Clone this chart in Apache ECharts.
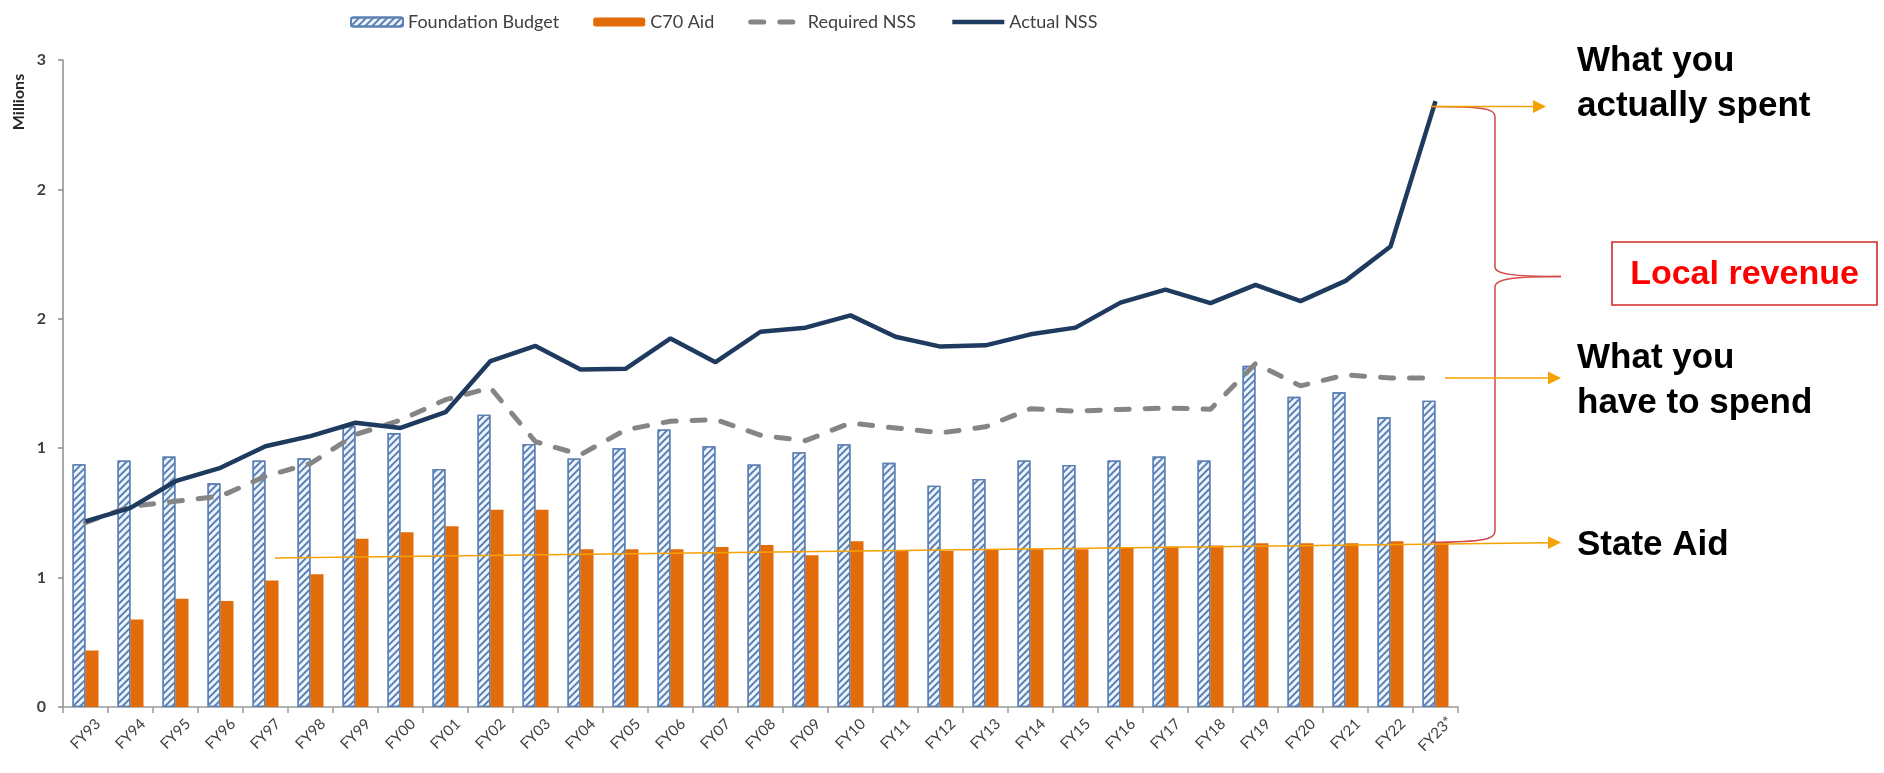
<!DOCTYPE html>
<html>
<head>
<meta charset="utf-8">
<title>Foundation budget, C70 aid and NSS</title>
<script src="https://cdn.jsdelivr.net/npm/echarts@6.0.0/dist/echarts.min.js"></script>
<style>
  html, body { margin: 0; padding: 0; background: #ffffff; }
  #chart { width: 1884px; height: 773px; }
</style>
</head>
<body>
<div id="chart"></div>
<script>
// fiscal years on the x axis
const categories = [
  'FY93', 'FY94', 'FY95', 'FY96', 'FY97', 'FY98', 'FY99', 'FY00', 'FY01', 'FY02',
  'FY03', 'FY04', 'FY05', 'FY06', 'FY07', 'FY08', 'FY09', 'FY10', 'FY11', 'FY12',
  'FY13', 'FY14', 'FY15', 'FY16', 'FY17', 'FY18', 'FY19', 'FY20', 'FY21', 'FY22', 'FY23*'
];

// values in millions
const foundationBudget = [
  1.126, 1.143, 1.161, 1.037, 1.143, 1.153, 1.302, 1.270, 1.104, 1.355,
  1.220, 1.152, 1.200, 1.287, 1.209, 1.124, 1.181, 1.218, 1.132, 1.026,
  1.057, 1.143, 1.122, 1.143, 1.161, 1.143, 1.582, 1.438, 1.459, 1.343, 1.420
];
const c70Aid = [
  0.262, 0.406, 0.502, 0.492, 0.587, 0.616, 0.780, 0.810, 0.838, 0.915,
  0.915, 0.732, 0.732, 0.732, 0.742, 0.751, 0.704, 0.769, 0.723, 0.723,
  0.731, 0.731, 0.731, 0.742, 0.744, 0.749, 0.759, 0.759, 0.759, 0.768, 0.764
];
const requiredNSS = [
  0.855, 0.930, 0.954, 0.977, 1.070, 1.129, 1.263, 1.330, 1.425, 1.480,
  1.230, 1.170, 1.285, 1.325, 1.333, 1.260, 1.235, 1.317, 1.294, 1.271,
  1.299, 1.383, 1.372, 1.380, 1.386, 1.381, 1.592, 1.489, 1.540, 1.526, 1.526
];
const actualNSS = [
  0.861, 0.923, 1.047, 1.109, 1.209, 1.256, 1.318, 1.294, 1.367, 1.604,
  1.674, 1.565, 1.568, 1.709, 1.599, 1.740, 1.759, 1.816, 1.717, 1.671,
  1.677, 1.728, 1.759, 1.875, 1.935, 1.873, 1.957, 1.882, 1.976, 2.135, 2.809
];

// the source axis shows its 0.6 steps rounded to whole numbers
const yTicks = [0, 0.6, 1.2, 1.8, 2.4, 3.0];
const yTickLabels = ['0', '1', '1', '2', '2', '3'];

const chart = echarts.init(document.getElementById('chart'));

const orange = '#f5a100';
const braceRed = '#d24646';
const navy = '#1f3a5f';
const grey = '#858585';
const noteFont = 'bold 35px "Liberation Sans", Arial, sans-serif';

function arrow(x1, y, x2) {
  return [
    { type: 'line', shape: { x1: x1, y1: y, x2: x2 - 13, y2: y },
      style: { stroke: orange, lineWidth: 1.6 }, z: 20 },
    { type: 'polygon', shape: { points: [[x2 - 13, y - 6.5], [x2, y], [x2 - 13, y + 6.5]] },
      style: { fill: orange }, z: 20 }
  ];
}

function note(text, x, y) {
  return { type: 'text', x: x, y: y, z: 20,
    style: { text: text, font: noteFont, fill: '#000000', verticalAlign: 'middle' } };
}

const graphics = [
  // y axis unit
  { type: 'text', x: 19, y: 102, rotation: Math.PI / 2, z: 20,
    style: { text: 'Millions', font: 'bold 16px Lato, sans-serif', fill: '#262626',
      align: 'center', verticalAlign: 'middle' } },
  // state aid trend arrow
  { type: 'line', shape: { x1: 275, y1: 558, x2: 1548, y2: 542.7 },
    style: { stroke: orange, lineWidth: 1.4 }, z: 20 },
  { type: 'polygon', shape: { points: [[1548, 536.2], [1561, 542.5], [1548, 549]] },
    style: { fill: orange }, z: 20 },
  ...arrow(1431, 106.5, 1546),
  ...arrow(1445, 378, 1561),
  // curly brace for local revenue
  { type: 'bezierCurve', z: 19,
    shape: { x1: 1431, y1: 106.5, cpx1: 1486, cpy1: 106.5, cpx2: 1495, cpy2: 109, x2: 1495, y2: 117 },
    style: { stroke: braceRed, lineWidth: 1.5, fill: null } },
  { type: 'line', z: 19, shape: { x1: 1495, y1: 117, x2: 1495, y2: 267 },
    style: { stroke: braceRed, lineWidth: 1.5 } },
  { type: 'bezierCurve', z: 19,
    shape: { x1: 1495, y1: 267, cpx1: 1495, cpy1: 274, cpx2: 1512, cpy2: 276.5, x2: 1561, y2: 276.5 },
    style: { stroke: braceRed, lineWidth: 1.5, fill: null } },
  { type: 'bezierCurve', z: 19,
    shape: { x1: 1561, y1: 276.5, cpx1: 1512, cpy1: 276.5, cpx2: 1495, cpy2: 279, x2: 1495, y2: 287 },
    style: { stroke: braceRed, lineWidth: 1.5, fill: null } },
  { type: 'line', z: 19, shape: { x1: 1495, y1: 287, x2: 1495, y2: 531 },
    style: { stroke: braceRed, lineWidth: 1.5 } },
  { type: 'bezierCurve', z: 19,
    shape: { x1: 1495, y1: 531, cpx1: 1495, cpy1: 539, cpx2: 1486, cpy2: 542, x2: 1431, y2: 542.5 },
    style: { stroke: braceRed, lineWidth: 1.5, fill: null } },
  // annotations
  note('What you', 1577, 61.5),
  note('actually spent', 1577, 106),
  note('What you', 1577, 358.5),
  note('have to spend', 1577, 403.5),
  note('State Aid', 1577, 545),
  { type: 'rect', z: 20, shape: { x: 1612, y: 242, width: 265, height: 63 },
    style: { fill: null, stroke: '#d42a2a', lineWidth: 1.6 } },
  { type: 'text', x: 1744.5, y: 275, z: 21,
    style: { text: 'Local revenue', font: 'bold 34px "Liberation Sans", Arial, sans-serif',
      fill: '#ff0000', align: 'center', verticalAlign: 'middle' } }
];

const option = {
  animation: false,
  backgroundColor: '#ffffff',
  textStyle: { fontFamily: 'Lato, sans-serif' },
  legend: {
    left: 345,
    top: 8,
    itemWidth: 52,
    itemHeight: 9,
    itemGap: 34,
    textStyle: { fontSize: 18, color: '#404040' },
    data: [
      'Foundation Budget',
      'C70 Aid',
      { name: 'Required NSS', itemStyle: { opacity: 0 },
        lineStyle: { color: grey, width: 5, type: [13, 16], cap: 'round' } },
      { name: 'Actual NSS', itemStyle: { opacity: 0 },
        lineStyle: { color: navy, width: 4.5 } }
    ]
  },
  grid: { left: 63, top: 60, width: 1395, height: 647 },
  xAxis: {
    type: 'category',
    data: categories,
    boundaryGap: true,
    axisLine: { lineStyle: { color: '#9a9a9a', width: 1.5 } },
    axisTick: { show: true, length: 6, lineStyle: { color: '#9a9a9a', width: 1.5 } },
    axisLabel: {
      interval: 0, rotate: 45, margin: 27, align: 'center', verticalAlign: 'middle',
      fontSize: 15, color: '#404040'
    },
    splitLine: { show: false }
  },
  yAxis: {
    type: 'value',
    min: 0,
    max: 3,
    interval: 0.6,
    axisLine: { show: true, lineStyle: { color: '#8c8c8c', width: 1.5 } },
    axisTick: { show: true, length: 5, lineStyle: { color: '#8c8c8c', width: 1.5 } },
    axisLabel: {
      fontSize: 16, fontWeight: 'bold', color: '#404040', margin: 17,
      formatter: function (v) {
        const i = yTicks.findIndex(function (t) { return Math.abs(t - v) < 1e-6; });
        return i >= 0 ? yTickLabels[i] : '';
      }
    },
    splitLine: { show: false }
  },
  series: [
    {
      name: 'Foundation Budget',
      type: 'bar',
      data: foundationBudget,
      barWidth: 13,
      barGap: '0%',
      itemStyle: {
        color: '#eef5fc',
        borderColor: '#5b80b4',
        borderWidth: 1.3,
        decal: {
          symbol: 'rect',
          symbolSize: 1,
          color: '#5b80b4',
          dashArrayX: [1, 0],
          dashArrayY: [2, 2.5],
          rotation: -Math.PI / 4
        }
      }
    },
    {
      name: 'C70 Aid',
      type: 'bar',
      data: c70Aid,
      barWidth: 13,
      itemStyle: { color: '#e36c0a' }
    },
    {
      name: 'Required NSS',
      type: 'line',
      data: requiredNSS,
      symbol: 'none',
      z: 3,
      lineStyle: { color: grey, width: 5, type: [13, 16], cap: 'round' },
      itemStyle: { color: grey }
    },
    {
      name: 'Actual NSS',
      type: 'line',
      data: actualNSS,
      symbol: 'none',
      z: 4,
      lineStyle: { color: navy, width: 4.5 },
      itemStyle: { color: navy }
    }
  ],
  graphic: { elements: graphics }
};

chart.setOption(option);
window.addEventListener('resize', function () { chart.resize(); });
</script>
</body>
</html>
